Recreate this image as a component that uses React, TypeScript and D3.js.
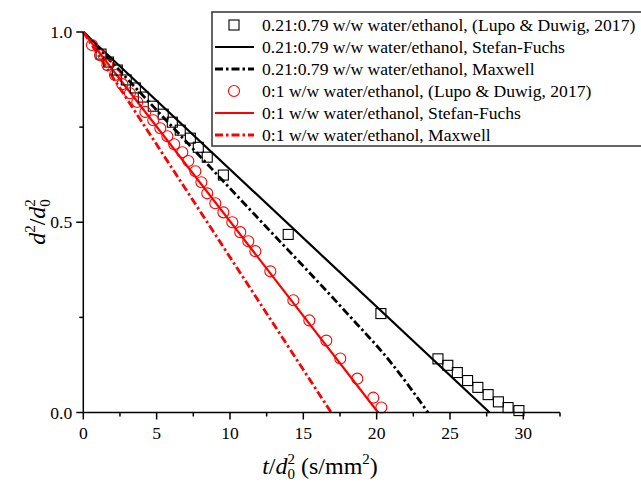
import React from 'react';
import * as d3 from 'd3';

// ---- data ----
const xMajorTicks = [0, 5, 10, 15, 20, 25, 30];
const xMinorTicks = [2.5, 7.5, 12.5, 17.5, 22.5, 27.5, 32.5];
const yMajorTicks = [0, 0.5, 1.0];
const yMajorLabels = ['0.0', '0.5', '1.0'];
const yMinorTicks = [0.25, 0.75];

// 0.21:0.79 w/w water/ethanol experiment (squares)
const sqT = [1.21, 1.72, 2.32, 2.93, 3.55, 4.09, 4.77, 5.45, 6.07, 6.61, 7.3, 7.84, 8.45, 9.55, 13.97, 20.29, 24.18, 24.85, 25.5, 26.2, 26.9, 27.6, 28.3, 28.96, 29.7];
const sqY = [0.942, 0.921, 0.9, 0.874, 0.853, 0.829, 0.805, 0.784, 0.763, 0.742, 0.721, 0.697, 0.671, 0.624, 0.468, 0.26, 0.141, 0.124, 0.105, 0.084, 0.066, 0.047, 0.028, 0.013, 0.005];

// 0:1 w/w water/ethanol experiment (circles)
const ciT = [0.59, 1.14, 1.64, 2.16, 2.66, 3.18, 3.68, 4.23, 4.77, 5.25, 5.73, 6.2, 6.75, 7.16, 7.64, 8.05, 8.45, 9.0, 9.55, 10.16, 10.7, 11.25, 11.73, 12.75, 14.32, 15.41, 16.57, 17.52, 18.68, 19.77, 20.32];
const ciY = [0.966, 0.939, 0.913, 0.887, 0.863, 0.839, 0.816, 0.79, 0.768, 0.747, 0.726, 0.705, 0.684, 0.661, 0.634, 0.605, 0.576, 0.55, 0.526, 0.5, 0.474, 0.45, 0.424, 0.371, 0.295, 0.242, 0.189, 0.142, 0.089, 0.039, 0.013];

// model lines
const sfBlackT = [0, 27.7];
const sfBlackY = [1, 0];
const mxBlackT = [0, 12, 18, 21, 23.5];
const mxBlackY = [1, 0.507, 0.26, 0.13, 0];
const sfRedT = [0, 20.1];
const sfRedY = [1, 0];
const mxRedT = [0, 16.9];
const mxRedY = [1, 0];

const legendLabels = [
  '0.21:0.79 w/w water/ethanol, (Lupo & Duwig, 2017)',
  '0.21:0.79 w/w water/ethanol, Stefan-Fuchs',
  '0.21:0.79 w/w water/ethanol, Maxwell',
  '0:1 w/w water/ethanol, (Lupo & Duwig, 2017)',
  '0:1 w/w water/ethanol, Stefan-Fuchs',
  '0:1 w/w water/ethanol, Maxwell',
];
const legendKinds = ['square', 'solid', 'dashdot', 'circle', 'solid', 'dashdot'];
const legendColors = ['#000', '#000', '#000', '#ff0000', '#ff0000', '#ff0000'];

const FONT = 'Liberation Serif, DejaVu Serif, serif';
const DASHDOT = '8,3,2.5,3';

export default function App() {
  const W = 641, H = 482;
  const x = d3.scaleLinear().domain([0, 32.5]).range([83.3, 560]);
  const y = d3.scaleLinear().domain([0, 1]).range([412.5, 32]);
  const line = (ts: number[], ys: number[], smooth = false) => {
    const g = d3.line<number>().x((_, i) => x(ts[i])).y((_, i) => y(ys[i]));
    if (smooth) g.curve(d3.curveMonotoneX);
    return g(ts.map((_, i) => i)) || '';
  };

  const x0 = x(0), y0 = y(0);
  const legX = 212, legTop = 12, legRowY0 = 25, legStep = 22;
  const ts = { fontFamily: FONT } as React.CSSProperties;

  return (
    <svg width={W} height={H} style={{ position: 'absolute', left: 0, top: 0, background: '#fff', fontFamily: FONT }}>
      <rect x={0} y={0} width={W} height={H} fill="#fff" />
      {/* model lines */}
      <path d={line(sfBlackT, sfBlackY)} stroke="#000" strokeWidth={2.2} fill="none" />
      <path d={line(mxBlackT, mxBlackY, true)} stroke="#000" strokeWidth={2.8} fill="none" strokeDasharray={DASHDOT} />
      <path d={line(sfRedT, sfRedY)} stroke="#ff0000" strokeWidth={2.2} fill="none" />
      <path d={line(mxRedT, mxRedY)} stroke="#ff0000" strokeWidth={2.8} fill="none" strokeDasharray={DASHDOT} />
      {/* experimental points */}
      {sqT.map((t, i) => (
        <rect key={'s' + i} x={x(t) - 5} y={y(sqY[i]) - 5} width={10} height={10} fill="none" stroke="#000" strokeWidth={1.1} />
      ))}
      {ciT.map((t, i) => (
        <circle key={'c' + i} cx={x(t)} cy={y(ciY[i])} r={5.5} fill="none" stroke="#ff0000" strokeWidth={1.1} />
      ))}
      {/* axes */}
      <line x1={x0} x2={x(32.5)} y1={y0} y2={y0} stroke="#000" strokeWidth={1.5} />
      <line x1={x0} x2={x0} y1={y(1)} y2={y0} stroke="#000" strokeWidth={1.5} />
      {xMajorTicks.map((t) => (
        <g key={'xt' + t}>
          <line x1={x(t)} x2={x(t)} y1={y0} y2={y0 + 7} stroke="#000" strokeWidth={1.5} />
          <text x={x(t)} y={y0 + 26} fontSize={17.6} textAnchor="middle" style={ts}>{t}</text>
        </g>
      ))}
      {xMinorTicks.map((t) => (
        <line key={'xm' + t} x1={x(t)} x2={x(t)} y1={y0} y2={y0 + 4} stroke="#000" strokeWidth={1.5} />
      ))}
      {yMajorTicks.map((v, i) => (
        <g key={'yt' + v}>
          <line x1={x0 - 7} x2={x0} y1={y(v)} y2={y(v)} stroke="#000" strokeWidth={1.5} />
          <text x={x0 - 11} y={y(v) + 6} fontSize={17.6} textAnchor="end" style={ts}>{yMajorLabels[i]}</text>
        </g>
      ))}
      {yMinorTicks.map((v) => (
        <line key={'ym' + v} x1={x0 - 4} x2={x0} y1={y(v)} y2={y(v)} stroke="#000" strokeWidth={1.5} />
      ))}
      {/* axis titles */}
      <text x={320} y={474} fontSize={24} textAnchor="middle" style={ts}>
        <tspan fontStyle="italic">t</tspan>/<tspan fontStyle="italic">d</tspan>
        <tspan dy={-10} fontSize={15}>2</tspan>
        <tspan dx={-7.5} dy={15} fontSize={15}>0</tspan>
        <tspan dy={-5}> (s/mm</tspan>
        <tspan dy={-10} fontSize={15}>2</tspan>
        <tspan dy={10}>)</tspan>
      </text>
      <text transform="translate(45,222) rotate(-90)" fontSize={24} textAnchor="middle" style={ts}>
        <tspan fontStyle="italic">d</tspan>
        <tspan dy={-10} fontSize={15}>2</tspan>
        <tspan dy={10}>/</tspan>
        <tspan fontStyle="italic">d</tspan>
        <tspan dy={-10} fontSize={15}>2</tspan>
        <tspan dx={-7.5} dy={15} fontSize={15}>0</tspan>
      </text>
      {/* legend */}
      <rect x={legX} y={legTop} width={W - legX + 10} height={134} fill="#fff" stroke="#333" strokeWidth={1.5} />
      {legendLabels.map((lab, i) => {
        const cy = legRowY0 + i * legStep;
        const kind = legendKinds[i];
        const col = legendColors[i];
        return (
          <g key={'lg' + i}>
            {kind === 'square' && <rect x={229} y={cy - 5} width={10} height={10} fill="none" stroke={col} strokeWidth={1.1} />}
            {kind === 'circle' && <circle cx={234} cy={cy} r={5.5} fill="none" stroke={col} strokeWidth={1.1} />}
            {kind === 'solid' && <line x1={215} x2={254} y1={cy} y2={cy} stroke={col} strokeWidth={2.2} />}
            {kind === 'dashdot' && <line x1={215} x2={254} y1={cy} y2={cy} stroke={col} strokeWidth={2.8} strokeDasharray={DASHDOT} />}
            <text x={262} y={cy + 6} fontSize={17.6} style={ts}>{lab}</text>
          </g>
        );
      })}
    </svg>
  );
}
